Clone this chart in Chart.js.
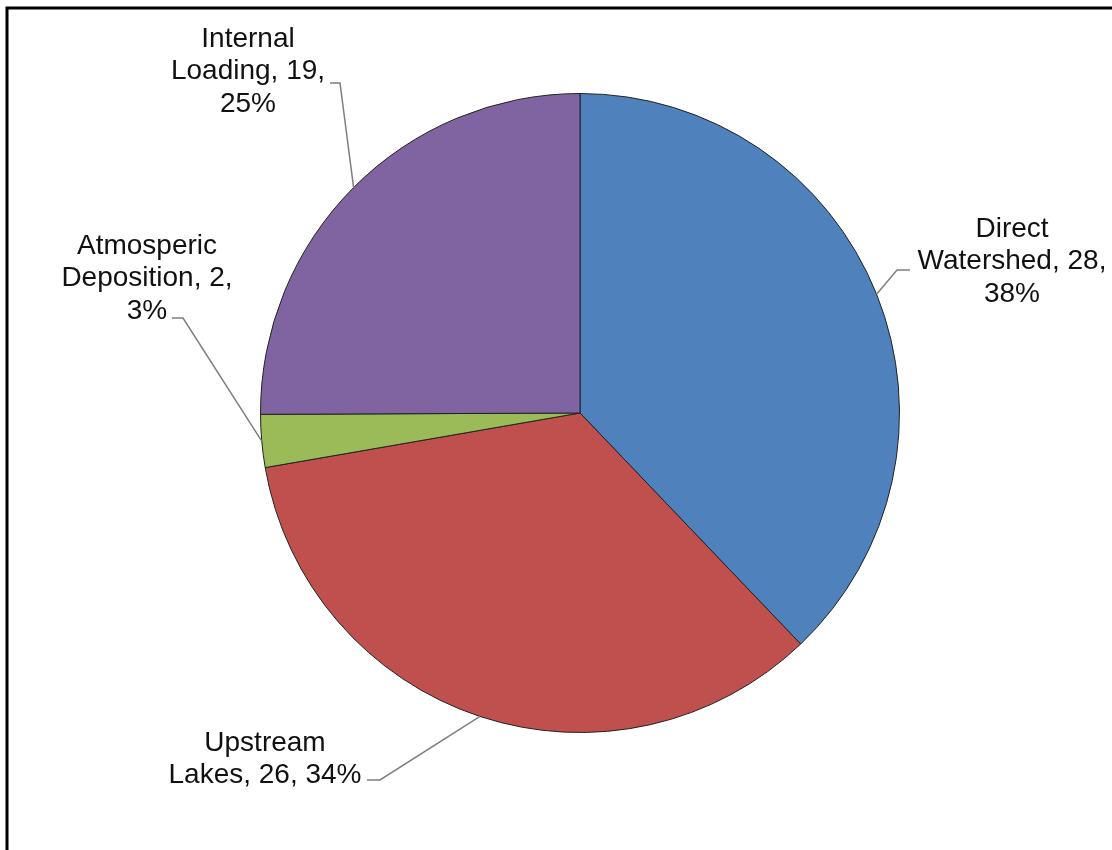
<!DOCTYPE html>
<html>
<head>
<meta charset="utf-8">
<script src="https://cdn.jsdelivr.net/npm/chart.js@4"></script>
<style>
  html, body { margin: 0; padding: 0; background: #fff; }
  #wrap { width: 1112px; height: 850px; position: relative; }
</style>
</head>
<body>
<div id="wrap"><canvas id="pieChart" width="1112" height="850"></canvas></div>
<script>
// data
const categories = ["Direct Watershed", "Upstream Lakes", "Atmosperic Deposition", "Internal Loading"];
const loads = [28.4, 25.8, 2.0, 18.8];
const shownLoads = [28, 26, 2, 19];
const shownPercents = [38, 34, 3, 25];
const sliceColors = ["#4F81BD", "#C0504D", "#9BBB59", "#8064A2"];

// label lines + placement (layout only)
const labelLines = [
  ["Direct", "Watershed, " + shownLoads[0] + ",", shownPercents[0] + "%"],
  ["Upstream", "Lakes, " + shownLoads[1] + ", " + shownPercents[1] + "%"],
  ["Atmosperic", "Deposition, " + shownLoads[2] + ",", shownPercents[2] + "%"],
  ["Internal", "Loading, " + shownLoads[3] + ",", shownPercents[3] + "%"]
];
const labelCenters = [[1012, 229], [265, 743], [147, 246], [248, 39]];
const leaderElbow = [[897, 270], [380, 780], [183, 318], [340, 83]];
const leaderEnd = [[910, 270], [367, 780], [172, 318], [330, 83]];

const labelPlugin = {
  id: "pieLabels",
  afterDatasetsDraw(chart) {
    const ctx = chart.ctx;
    const arcs = chart.getDatasetMeta(0).data;
    ctx.save();
    // leader lines
    ctx.strokeStyle = "#7f7f7f";
    ctx.lineWidth = 1.5;
    arcs.forEach((arc, i) => {
      const mid = (arc.startAngle + arc.endAngle) / 2;
      const sx = arc.x + Math.cos(mid) * arc.outerRadius;
      const sy = arc.y + Math.sin(mid) * arc.outerRadius;
      ctx.beginPath();
      ctx.moveTo(sx, sy);
      ctx.lineTo(leaderElbow[i][0], leaderElbow[i][1]);
      ctx.lineTo(leaderEnd[i][0], leaderEnd[i][1]);
      ctx.stroke();
    });
    // text
    ctx.fillStyle = "#111";
    ctx.font = "28px 'Liberation Sans', Arial, sans-serif";
    ctx.textAlign = "center";
    ctx.textBaseline = "middle";
    labelLines.forEach((lines, i) => {
      lines.forEach((t, k) => {
        ctx.fillText(t, labelCenters[i][0], labelCenters[i][1] + k * 32.5);
      });
    });
    // chart frame
    ctx.strokeStyle = "#000";
    ctx.lineWidth = 3;
    ctx.beginPath();
    ctx.moveTo(7, 852);
    ctx.lineTo(7, 8);
    ctx.lineTo(1114, 8);
    ctx.stroke();
    ctx.restore();
  }
};

new Chart(document.getElementById("pieChart").getContext("2d"), {
  type: "pie",
  data: {
    labels: categories,
    datasets: [{
      data: loads,
      backgroundColor: sliceColors,
      borderColor: "#222",
      borderWidth: 1
    }]
  },
  options: {
    responsive: false,
    animation: false,
    layout: { padding: { left: 260, right: 212, top: 93, bottom: 117 } },
    plugins: {
      legend: { display: false },
      tooltip: { enabled: false }
    }
  },
  plugins: [labelPlugin]
});
</script>
</body>
</html>
